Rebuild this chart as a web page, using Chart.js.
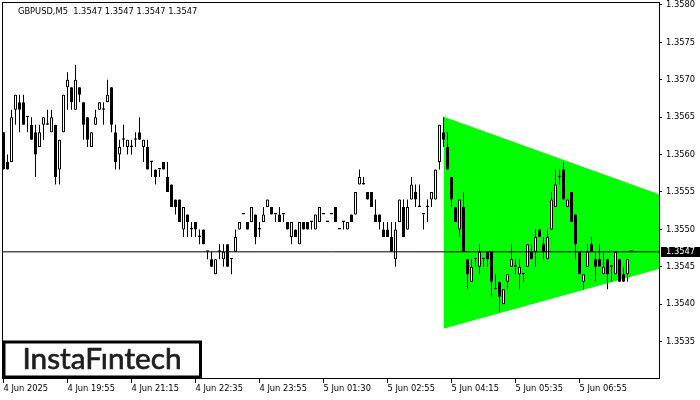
<!DOCTYPE html>
<html>
<head>
<meta charset="utf-8">
<script src="https://cdn.jsdelivr.net/npm/chart.js@4.4.1/dist/chart.umd.min.js"></script>
<style>
html,body{margin:0;padding:0;background:#fff;}
#wrap{width:700px;height:400px;}
</style>
</head>
<body>
<div id="wrap"><canvas id="c" width="700" height="400"></canvas></div>
<script>
const symbol = 'GBPUSD';
const timeframe = 'M5';
const brand = 'InstaF\u0131ntech';

const opens = [
1.3563,1.3559,1.3559,1.3566,1.3567,1.3567,1.3565,1.3564,1.3563,1.3561,
1.3564,1.3564,1.3563,1.3564,1.3558,1.3563,1.3569,1.3569,1.3566,1.3569,
1.3567,1.3565,1.3561,1.3564,1.3566,1.3566,1.3567,1.3569,1.3563,1.3560,
1.3562,1.3561,1.3561,1.3562,1.3563,1.3561,1.3561,1.3559,1.3558,1.3558,
1.3559,1.3557,1.3556,1.3554,1.3554,1.3550,1.3552,1.3550,1.3551,1.3549,
1.3550,1.3547,1.3546,1.3544,1.3547,1.3546,1.3548,1.3546,1.3547,1.3550,
1.3552,1.3551,1.3551,1.3552,1.3550,1.3551,1.3553,1.3553,1.3552,1.3552,
1.3552,1.3551,1.3549,1.3550,1.3548,1.3551,1.3551,1.3551,1.3550,1.3551,
1.3552,1.3551,1.3552,1.3553,1.3550,1.3551,1.3550,1.3552,1.3552,1.3556,
1.3556,1.3555,1.3555,1.3552,1.3552,1.3550,1.3550,1.3549,1.3546,1.3551,
1.3553,1.3550,1.3554,1.3555,1.3553,1.3552,1.3553,1.3554,1.3554,1.3559,
1.3563,1.3561,1.3557,1.3553,1.3550,1.3553,1.3546,1.3543,1.3546,1.3545,
1.3546,1.3547,1.3547,1.3542,1.3543,1.3540,1.3543,1.3545,1.3545,1.3544,
1.3544,1.3545,1.3547,1.3547,1.3550,1.3548,1.3546,1.3550,1.3553,1.3557,
1.3558,1.3553,1.3555,1.3552,1.3547,1.3543,1.3545,1.3548,1.3546,1.3546,
1.3544,1.3546,1.3545,1.3544,1.3546,1.3544,1.3544,1.3547
];
const highs = [
1.3563,1.3560,1.3566,1.3568,1.3568,1.3568,1.3565,1.3565,1.3564,1.3564,
1.3565,1.3566,1.3566,1.3564,1.3562,1.3568,1.3571,1.3569,1.3572,1.3569,
1.3567,1.3565,1.3563,1.3566,1.3567,1.3567,1.3570,1.3569,1.3564,1.3562,
1.3564,1.3562,1.3562,1.3563,1.3565,1.3562,1.3562,1.3559,1.3558,1.3558,
1.3559,1.3559,1.3556,1.3554,1.3554,1.3553,1.3552,1.3551,1.3551,1.3550,
1.3550,1.3547,1.3547,1.3546,1.3548,1.3548,1.3548,1.3546,1.3550,1.3551,
1.3552,1.3551,1.3553,1.3552,1.3551,1.3553,1.3554,1.3553,1.3552,1.3553,
1.3552,1.3551,1.3551,1.3550,1.3551,1.3551,1.3551,1.3551,1.3552,1.3553,
1.3552,1.3551,1.3552,1.3553,1.3550,1.3551,1.3551,1.3552,1.3555,1.3558,
1.3557,1.3555,1.3555,1.3554,1.3552,1.3551,1.3551,1.3551,1.3551,1.3554,
1.3554,1.3554,1.3557,1.3556,1.3556,1.3552,1.3554,1.3555,1.3558,1.3564,
1.3565,1.3563,1.3557,1.3553,1.3554,1.3555,1.3546,1.3546,1.3546,1.3548,
1.3546,1.3547,1.3547,1.3544,1.3543,1.3542,1.3544,1.3548,1.3546,1.3546,
1.3544,1.3548,1.3548,1.3550,1.3550,1.3549,1.3550,1.3555,1.3558,1.3558,
1.3559,1.3554,1.3555,1.3552,1.3547,1.3544,1.3548,1.3549,1.3547,1.3548,
1.3547,1.3546,1.3545,1.3547,1.3546,1.3545,1.3546,1.3547
];
const lows = [
1.3558,1.3558,1.3559,1.3564,1.3563,1.3564,1.3563,1.3562,1.3557,1.3561,
1.3562,1.3564,1.3563,1.3556,1.3556,1.3563,1.3566,1.3566,1.3566,1.3567,
1.3562,1.3561,1.3561,1.3564,1.3566,1.3564,1.3567,1.3563,1.3558,1.3558,
1.3561,1.3560,1.3560,1.3561,1.3562,1.3559,1.3558,1.3557,1.3556,1.3557,
1.3558,1.3555,1.3553,1.3552,1.3551,1.3549,1.3549,1.3549,1.3549,1.3548,
1.3548,1.3546,1.3545,1.3544,1.3546,1.3545,1.3545,1.3544,1.3547,1.3550,
1.3552,1.3550,1.3551,1.3548,1.3549,1.3551,1.3553,1.3552,1.3551,1.3551,
1.3551,1.3550,1.3548,1.3549,1.3548,1.3550,1.3550,1.3550,1.3550,1.3551,
1.3552,1.3551,1.3552,1.3551,1.3550,1.3550,1.3550,1.3551,1.3552,1.3556,
1.3556,1.3554,1.3553,1.3551,1.3550,1.3549,1.3549,1.3547,1.3545,1.3551,
1.3549,1.3550,1.3554,1.3553,1.3553,1.3550,1.3551,1.3553,1.3554,1.3558,
1.3561,1.3558,1.3553,1.3551,1.3549,1.3547,1.3542,1.3543,1.3545,1.3544,
1.3545,1.3545,1.3541,1.3542,1.3539,1.3540,1.3542,1.3545,1.3544,1.3542,
1.3543,1.3545,1.3546,1.3545,1.3549,1.3546,1.3546,1.3550,1.3553,1.3556,
1.3554,1.3553,1.3551,1.3546,1.3544,1.3542,1.3545,1.3547,1.3543,1.3545,
1.3544,1.3542,1.3543,1.3544,1.3543,1.3543,1.3543,1.3547
];
const closes = [
1.3558,1.3558,1.3565,1.3568,1.3566,1.3564,1.3565,1.3562,1.3560,1.3563,
1.3565,1.3564,1.3565,1.3557,1.3562,1.3568,1.3570,1.3567,1.3570,1.3568,
1.3564,1.3562,1.3563,1.3565,1.3567,1.3566,1.3568,1.3564,1.3559,1.3561,
1.3562,1.3562,1.3561,1.3562,1.3562,1.3562,1.3558,1.3559,1.3557,1.3558,
1.3558,1.3555,1.3553,1.3553,1.3551,1.3553,1.3551,1.3550,1.3550,1.3549,
1.3548,1.3547,1.3545,1.3546,1.3547,1.3547,1.3545,1.3546,1.3549,1.3551,
1.3552,1.3550,1.3553,1.3549,1.3550,1.3552,1.3554,1.3552,1.3552,1.3551,
1.3552,1.3550,1.3551,1.3549,1.3551,1.3550,1.3550,1.3551,1.3552,1.3553,
1.3552,1.3551,1.3552,1.3551,1.3550,1.3551,1.3551,1.3551,1.3555,1.3557,
1.3556,1.3554,1.3553,1.3551,1.3551,1.3549,1.3549,1.3547,1.3550,1.3554,
1.3549,1.3553,1.3556,1.3554,1.3553,1.3552,1.3553,1.3555,1.3558,1.3564,
1.3562,1.3558,1.3554,1.3551,1.3554,1.3547,1.3544,1.3545,1.3546,1.3547,
1.3546,1.3546,1.3543,1.3542,1.3541,1.3542,1.3544,1.3546,1.3545,1.3545,
1.3544,1.3548,1.3546,1.3549,1.3549,1.3547,1.3549,1.3554,1.3556,1.3557,
1.3554,1.3554,1.3551,1.3548,1.3544,1.3544,1.3547,1.3547,1.3545,1.3545,
1.3545,1.3544,1.3545,1.3547,1.3543,1.3543,1.3546,1.3547
];

const xTickIdx = [0,16,32,48,64,80,96,112,128,144];
const xTickLabels = ['4 Jun 2025','4 Jun 19:55','4 Jun 21:15','4 Jun 22:35','4 Jun 23:55',
                     '5 Jun 01:30','5 Jun 02:55','5 Jun 04:15','5 Jun 05:35','5 Jun 06:55'];
const yTicks = [1.3535,1.3540,1.3545,1.3550,1.3555,1.3560,1.3565,1.3570,1.3575,1.3580];
const lastPrice = 1.3547;

const triangleX = [110,164];
const triangleTop = [1.3565,1.35546];
const triangleBottom = [1.35368,1.35448];

const AXIS_FONT = {family:'DejaVu Sans', size:8.3};
const idx = opens.map((_, i) => i);
const last = opens.length - 1;

const overlay = {
  id:'overlay',
  afterDraw(chart){
    const c = chart.ctx, a = chart.chartArea;
    c.save();
    // plot frame
    c.strokeStyle = '#000'; c.lineWidth = 1;
    c.strokeRect(a.left + 0.5, a.top + 0.5, a.right - a.left, a.bottom - a.top - 1);
    // header
    c.fillStyle = '#000';
    c.font = '8.3px "DejaVu Sans"';
    c.textBaseline = 'alphabetic'; c.textAlign = 'left';
    const ohlc = [opens[last], highs[last], lows[last], closes[last]].map(v => v.toFixed(4)).join(' ');
    c.fillText(symbol + ',' + timeframe + '  ' + ohlc, 18, 14);
    // current price box
    const py = chart.scales.y.getPixelForValue(lastPrice);
    c.fillStyle = '#000';
    c.fillRect(661, Math.round(py) - 5, 39, 10);
    c.fillStyle = '#fff';
    c.textBaseline = 'middle';
    c.fillText(lastPrice.toFixed(4), 666, Math.round(py));
    // logo box
    c.fillStyle = '#fff';
    c.fillRect(3, 341, 198, 37);
    c.lineWidth = 3; c.strokeStyle = '#000';
    c.strokeRect(4, 342, 196.5, 35);
    c.font = '28px Lato';
    const w = c.measureText(brand).width;
    const fs = 28 * 159 / w;
    c.font = fs.toFixed(2) + 'px Lato';
    c.fillStyle = '#1e1e1e'; c.strokeStyle = '#1e1e1e'; c.lineWidth = 0.7;
    c.textAlign = 'center'; c.textBaseline = 'alphabetic';
    c.fillText(brand, 102, 369);
    c.strokeText(brand, 102, 369);
    c.restore();
  }
};

new Chart(document.getElementById('c'), {
  type:'bar',
  data:{
    datasets:[
      {type:'line', data: triangleX.map((x,i)=>({x, y: triangleTop[i]})),
       borderColor:'#00ff00', borderWidth:1, pointRadius:0, fill:false, order:5},
      {type:'line', data: triangleX.map((x,i)=>({x, y: triangleBottom[i]})),
       borderColor:'#00ff00', borderWidth:1, pointRadius:0, fill:'-1', backgroundColor:'#00ff00', order:5},
      {data: idx.map(i=>({x:i, y:[lows[i], highs[i]]})),
       backgroundColor:'#000', borderWidth:0, barThickness:1, grouped:false, inflateAmount:0, order:3},
      {data: idx.map(i=>({x:i, y:[opens[i], closes[i]]})),
       backgroundColor: idx.map(i => closes[i] > opens[i] ? '#ffffff' : '#000000'),
       borderColor:'#000', borderWidth:1, borderSkipped:false, barThickness:3, minBarLength:1.5,
       grouped:false, inflateAmount:0, order:2},
      {type:'line', data:[{x:-2, y:lastPrice},{x:170, y:lastPrice}],
       borderColor:'#000', borderWidth:1, pointRadius:0, fill:false, order:1}
    ]
  },
  options:{
    responsive:false, animation:false, devicePixelRatio:1,
    layout:{padding:{left:2, top:2, right:0, bottom:0}},
    plugins:{legend:{display:false}, tooltip:{enabled:false}, filler:{drawTime:'beforeDatasetsDraw'}},
    scales:{
      x:{type:'linear', min:-0.375, max:163.875, offset:false,
         afterFit(s){ s.height = 21; s.paddingLeft = 0; s.paddingRight = 0; },
         afterBuildTicks(s){ s.ticks = xTickIdx.map(v => ({value:v})); },
         grid:{display:true, drawOnChartArea:false, drawTicks:true, tickLength:4, color:'#000', offset:false},
         border:{display:false},
         ticks:{autoSkip:false, maxRotation:0, minRotation:0, align:'start', padding:1, color:'#000', font:AXIS_FONT,
                callback:(v) => { const k = xTickIdx.indexOf(v); return k >= 0 ? xTickLabels[k] : ''; }}
      },
      y:{type:'linear', position:'right', min:1.3530, max:1.35804,
         afterFit(s){ s.width = 41; s.paddingTop = 0; s.paddingBottom = 0; },
         afterBuildTicks(s){ s.ticks = yTicks.map(v => ({value:v})); },
         grid:{display:true, drawOnChartArea:false, drawTicks:true, tickLength:3, color:'#000'},
         border:{display:false},
         ticks:{padding:4, color:'#000', font:AXIS_FONT, callback:(v) => Number(v).toFixed(4)}
      }
    }
  },
  plugins:[overlay]
});
</script>
</body>
</html>
